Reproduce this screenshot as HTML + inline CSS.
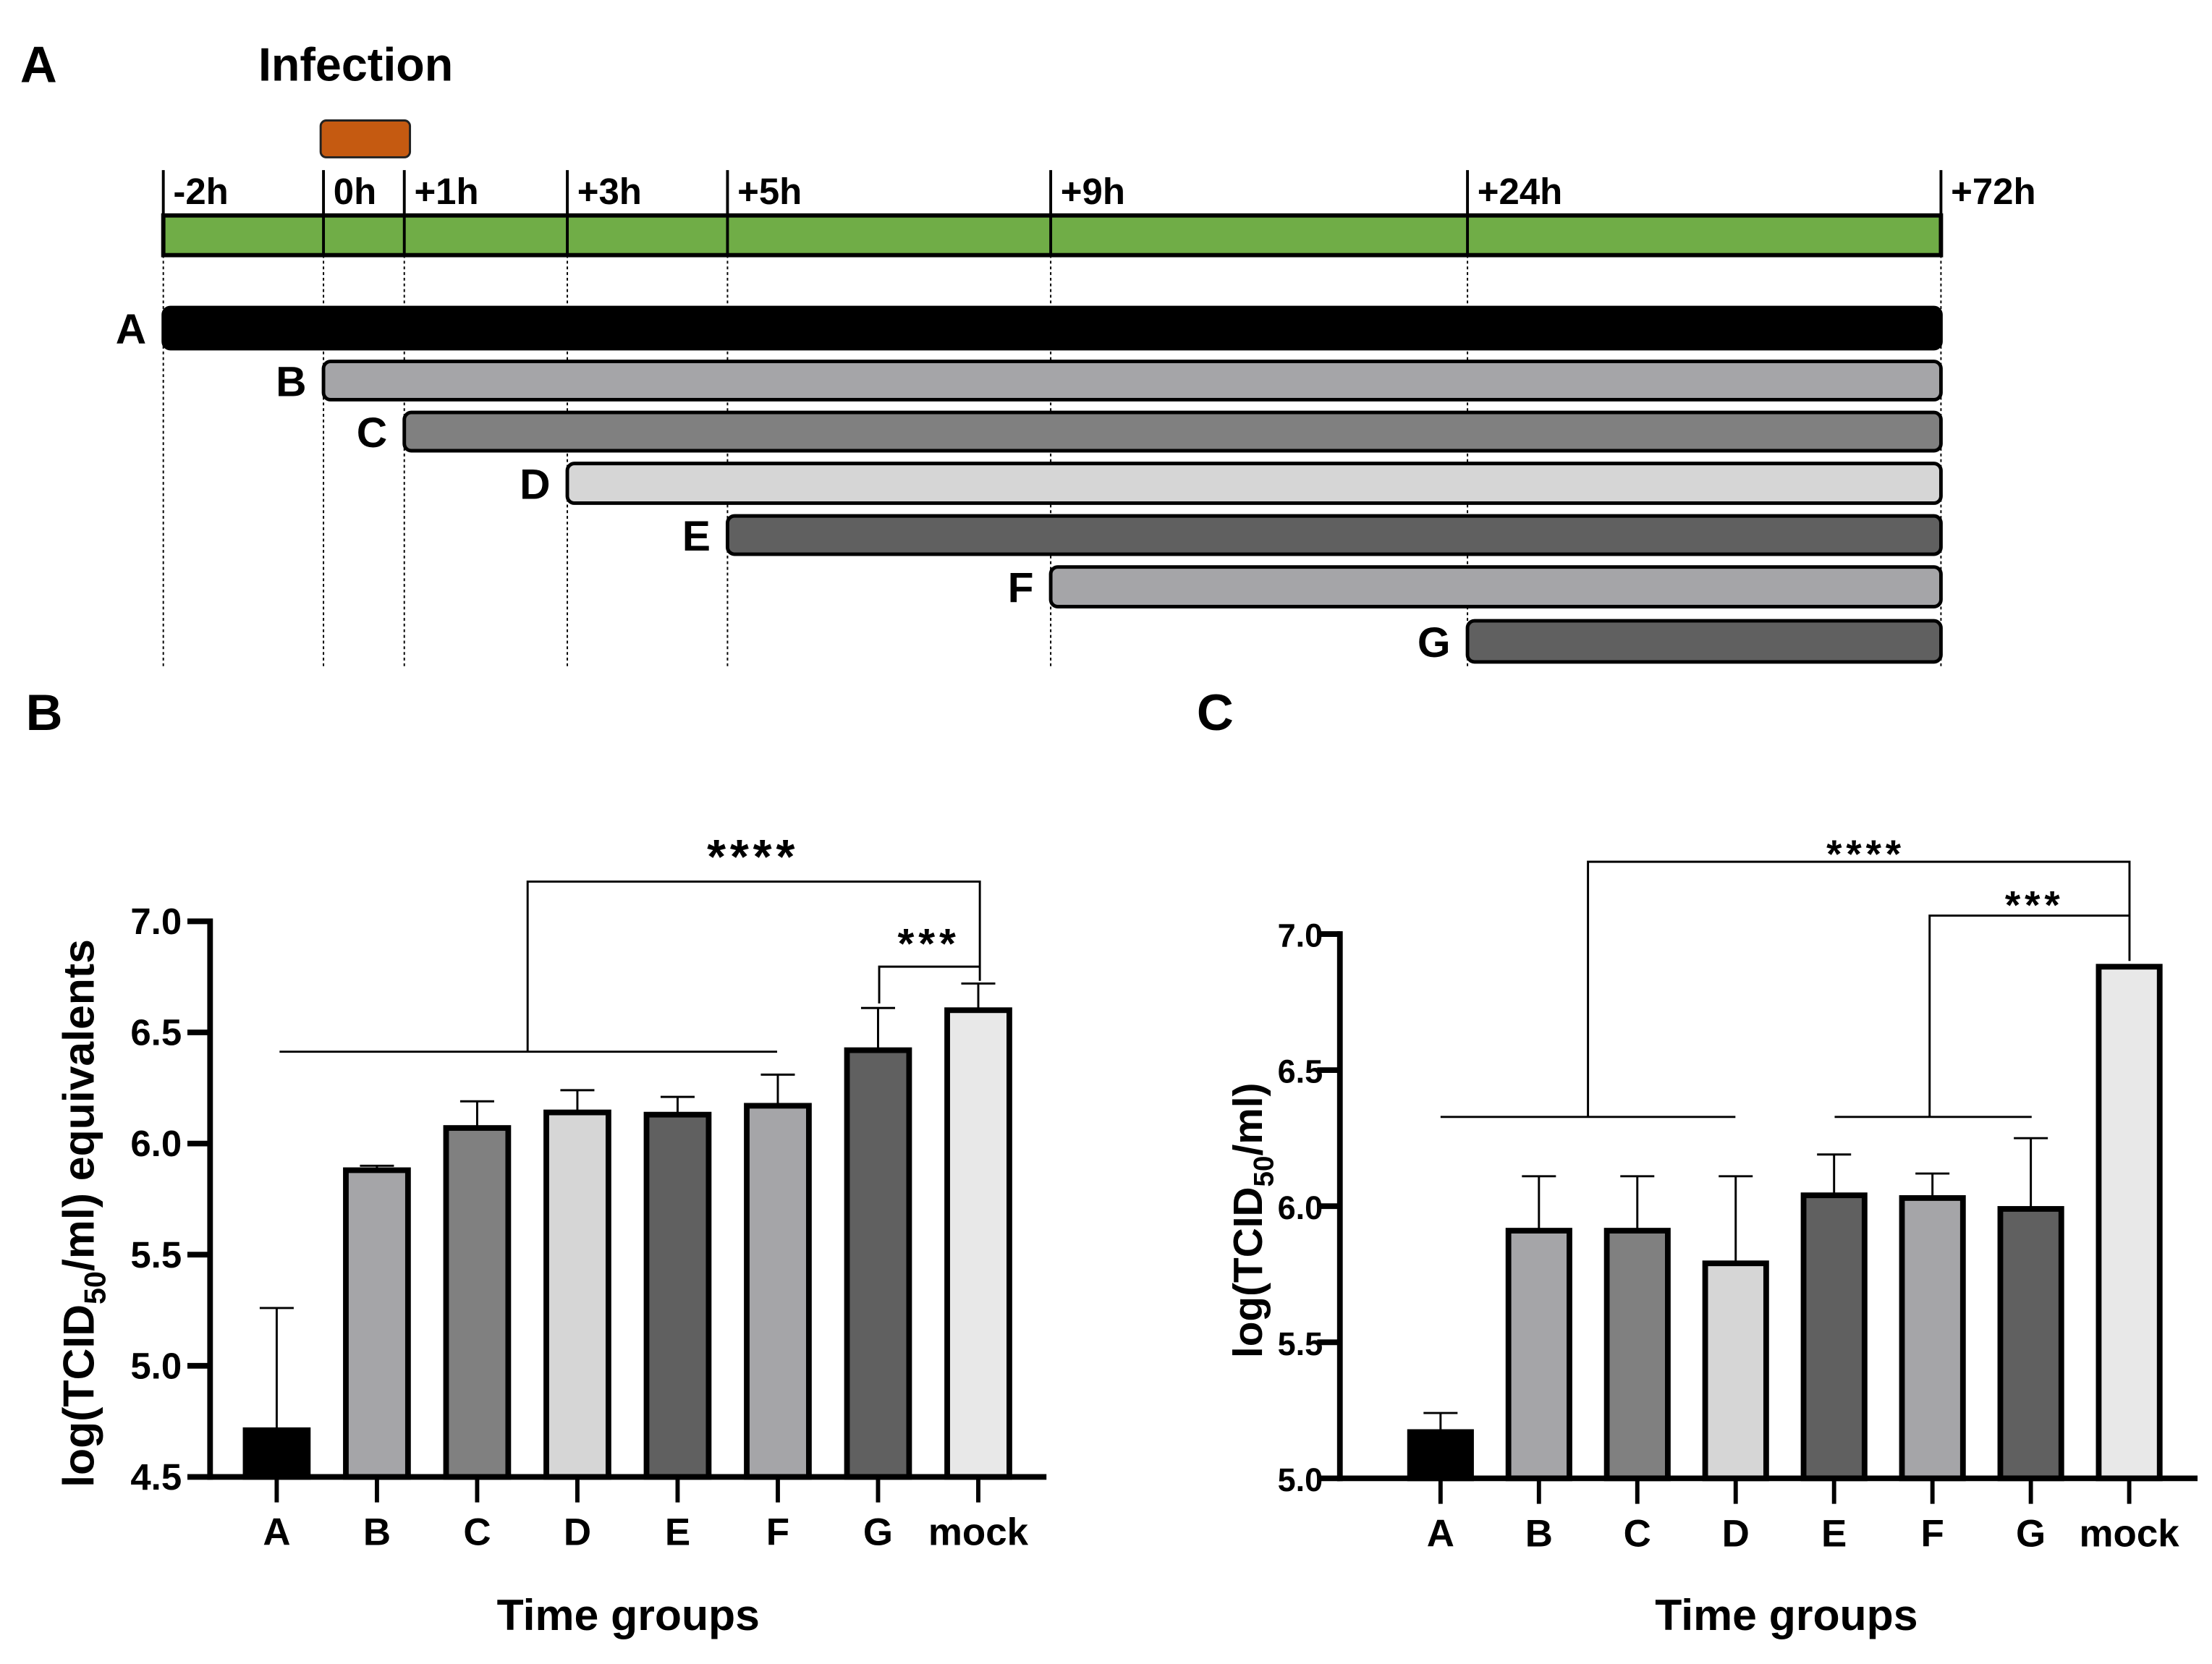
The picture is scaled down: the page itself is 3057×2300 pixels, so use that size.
<!DOCTYPE html>
<html><head><meta charset="utf-8"><style>
html,body{margin:0;padding:0;background:#fff;}
svg{display:block;font-family:"Liberation Sans",Arial,sans-serif;}
</style></head><body>
<svg id="fig" width="3057" height="2300" viewBox="0 0 1560 1174" xmlns="http://www.w3.org/2000/svg">
<g id="panelA">
<text x="14" y="58" font-size="36" font-weight="bold">A</text>
<text x="182" y="57" font-size="33" font-weight="bold">Infection</text>
<rect x="226" y="85" width="63" height="26" rx="4" fill="#C55A11" stroke="#222" stroke-width="1.5"/>
</g>
<g id="chartB"></g>
<g id="chartC"></g>
</svg>
<script>
const NS="http://www.w3.org/2000/svg";
function mk(p,tag,a,txt){const e=document.createElementNS(NS,tag);for(const k in a)e.setAttribute(k,a[k]);if(txt!==undefined)e.textContent=txt;p.appendChild(e);return e;}

// ---- Timeline data ----
const timeLabels=["-2h","0h","+1h","+3h","+5h","+9h","+24h","+72h"];
const timeX=[115,228,285,400,513,741,1035,1369];
const groupNames=["A","B","C","D","E","F","G"];
const groupStart=[0,1,2,3,4,5,6];
const groupColors=["#000000","#A5A5A8","#808080","#D6D6D6","#606060","#A5A5A8","#606060"];
const groupY=[[217,246],[255,282],[291,318],[327,355],[364,391],[400,428],[438,467]];

const A=document.getElementById('panelA');
mk(A,'rect',{x:115,y:152,width:1254,height:28,fill:'#70AD47',stroke:'#000','stroke-width':3});
timeX.forEach((x,i)=>{
  let l=mk(A,'line',{x1:x,y1:120,x2:x,y2:180,stroke:'#000','stroke-width':2});
  
  
  let t=mk(A,'text',{x:x+7,y:144,'font-size':26,'font-weight':'bold'},timeLabels[i]);
  
  
  mk(A,'line',{x1:x,y1:180,x2:x,y2:470,stroke:'#000','stroke-width':1,'stroke-dasharray':'2,2'});
});
groupNames.forEach((g,i)=>{
  const x0=timeX[groupStart[i]],x1=timeX[7],[y0,y1]=groupY[i];
  let r=mk(A,'rect',{x:x0,y:y0,width:x1-x0,height:y1-y0,rx:5,fill:groupColors[i],stroke:'#000','stroke-width':2.5});
  
  
  let t=mk(A,'text',{x:x0-12,y:(y0+y1)/2+11,'font-size':30,'font-weight':'bold','text-anchor':'end'},g);
  
  
});

// ---- Chart data ----
const categories=["A","B","C","D","E","F","G","mock"];
const barColors=["#000000","#A5A5A8","#808080","#D6D6D6","#606060","#A5A5A8","#606060","#E8E8E8"];
const valuesB=[4.71,5.88,6.07,6.14,6.13,6.17,6.42,6.60];
const errTopB=[5.26,5.90,6.19,6.24,6.21,6.31,6.61,6.72];
const ticksB=["4.5","5.0","5.5","6.0","6.5","7.0"];
const valuesC=[5.17,5.91,5.91,5.79,6.04,6.03,5.99,6.88];
const errTopC=[5.24,6.11,6.11,6.11,6.19,6.12,6.25,null];
const ticksC=["5.0","5.5","6.0","6.5","7.0"];

function drawChart(g,cfg){
  const {x0,x1,yTop,yBot,vmin,vmax,firstC,stepC,vals,errs,ticks,sub,ylabX,titleX,tickFs,tickGap,ylabFs}=cfg;
  const ys=v=>yBot-(v-vmin)/(vmax-vmin)*(yBot-yTop);
  const xs=i=>firstC+i*stepC;
  const bw=stepC*0.62;
  vals.forEach((v,i)=>{
    if(errs[i]!==null){
      let e=mk(g,'line',{x1:xs(i),y1:ys(v),x2:xs(i),y2:ys(errs[i]),stroke:'#000','stroke-width':1.5});
      
      
      mk(g,'line',{x1:xs(i)-12,y1:ys(errs[i]),x2:xs(i)+12,y2:ys(errs[i]),stroke:'#000','stroke-width':1.5});
    }
    let r=mk(g,'rect',{x:xs(i)-bw/2,y:ys(v),width:bw,height:yBot-ys(v),fill:barColors[i],stroke:'#000','stroke-width':4});
    
    
    mk(g,'line',{x1:xs(i),y1:yBot,x2:xs(i),y2:yBot+18,stroke:'#000','stroke-width':3});
    let t=mk(g,'text',{x:xs(i),y:yBot+48,'font-size':27,'font-weight':'bold','text-anchor':'middle'},categories[i]);
    
    
  });
  mk(g,'line',{x1:x0,y1:yTop-2,x2:x0,y2:yBot+2,stroke:'#000','stroke-width':4});
  mk(g,'line',{x1:x0-2,y1:yBot,x2:x1,y2:yBot,stroke:'#000','stroke-width':4});
  ticks.forEach(tk=>{
    const y=ys(parseFloat(tk));
    mk(g,'line',{x1:x0-16,y1:y,x2:x0,y2:y,stroke:'#000','stroke-width':4});
    let t=mk(g,'text',{x:x0-tickGap,y:y+9,'font-size':tickFs,'font-weight':'bold','text-anchor':'end'},tk);
    
    
  });
  const cy=(yTop+yBot)/2+10;
  let yl=mk(g,'text',{x:ylabX,y:cy,'font-size':ylabFs,'font-weight':'bold','text-anchor':'middle',transform:`rotate(-90 ${ylabX} ${cy})`});
  
  
  mk(yl,'tspan',{},'log(TCID');
  mk(yl,'tspan',{'font-size':ylabFs*0.68,dy:8},'50');
  mk(yl,'tspan',{dy:-8},sub);
  let xt=mk(g,'text',{x:titleX,y:1150,'font-size':31,'font-weight':'bold','text-anchor':'middle'},'Time groups');
  
  
  return {ys,xs};
}
function L(g,pts){mk(g,'polyline',{points:pts.map(p=>p.join(',')).join(' '),fill:'none',stroke:'#000','stroke-width':1.5});}

const gB=document.getElementById('chartB');
mk(gB,'text',{x:18,y:515,'font-size':36,'font-weight':'bold'},'B');
drawChart(gB,{x0:148,x1:738,yTop:650,yBot:1042,vmin:4.5,vmax:7.0,firstC:195,stepC:70.7,vals:valuesB,errs:errTopB,ticks:ticksB,sub:'/ml) equivalents',ylabX:66,titleX:443,tickFs:26,tickGap:20,ylabFs:31});
L(gB,[[197,742],[548,742]]);
L(gB,[[372,742],[372,622],[691,622],[691,692]]);
L(gB,[[620,708],[620,682],[691,682]]);
mk(gB,'text',{x:531,y:616,'font-size':34,'font-weight':'bold','text-anchor':'middle','letter-spacing':3},'****');
mk(gB,'text',{x:655,y:676,'font-size':30,'font-weight':'bold','text-anchor':'middle','letter-spacing':3},'***');

const gC=document.getElementById('chartC');
mk(gC,'text',{x:844,y:515,'font-size':36,'font-weight':'bold'},'C');
drawChart(gC,{x0:945,x1:1550,yTop:659,yBot:1043,vmin:5.0,vmax:7.0,firstC:1016,stepC:69.4,vals:valuesC,errs:errTopC,ticks:ticksC,sub:'/ml)',ylabX:890,titleX:1260,tickFs:23,tickGap:12,ylabFs:29});
L(gC,[[1016,788],[1224,788]]);
L(gC,[[1294,788],[1433,788]]);
L(gC,[[1120,788],[1120,608],[1502,608],[1502,678]]);
L(gC,[[1361,788],[1361,646],[1502,646]]);
mk(gC,'text',{x:1316,y:612,'font-size':28,'font-weight':'bold','text-anchor':'middle','letter-spacing':3},'****');
mk(gC,'text',{x:1435,y:648,'font-size':28,'font-weight':'bold','text-anchor':'middle','letter-spacing':3},'***');
</script>
</body></html>
